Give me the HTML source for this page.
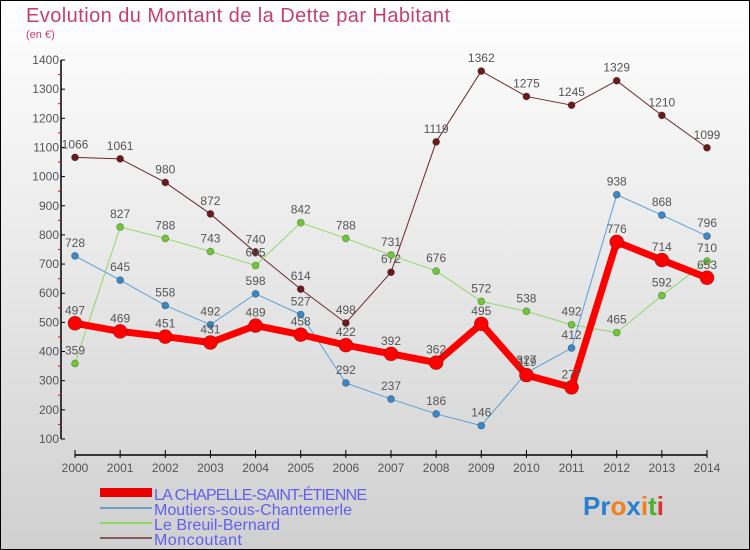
<!DOCTYPE html>
<html><head><meta charset="utf-8"><style>
body{margin:0}
svg{display:block;font-family:"Liberation Sans","DejaVu Sans",sans-serif}
</style></head><body>
<svg width="750" height="550" viewBox="0 0 750 550">
<defs><linearGradient id="bg" x1="0" y1="0" x2="0" y2="1"><stop offset="0" stop-color="#ffffff"/><stop offset="1" stop-color="#d0d0d0"/></linearGradient></defs>
<rect x="0.5" y="0.5" width="749" height="549" fill="url(#bg)" stroke="#000"/>
<text x="26" y="22" font-size="20" fill="#c8406a" textLength="424">Evolution du Montant de la Dette par Habitant</text>
<text x="26" y="38" font-size="11" fill="#c8406a">(en €)</text>
<g id="axes"></g>
<g id="series"></g>
<g font-size="16" fill="#6060ee">
<rect x="100" y="488" width="52" height="9" fill="#e80000"/>
<text x="154" y="500" textLength="213">LA CHAPELLE-SAINT-ÉTIENNE</text>
<rect x="100" y="507" width="52" height="2" fill="#6a9fc8"/>
<text x="154" y="515" textLength="198">Moutiers-sous-Chantemerle</text>
<rect x="100" y="522" width="52" height="2" fill="#8ed860"/>
<text x="154" y="530" textLength="126">Le Breuil-Bernard</text>
<rect x="100" y="537" width="52" height="2" fill="#8a5a5a"/>
<text x="154" y="545" textLength="88">Moncoutant</text>
</g>
<text x="583" y="515" font-size="26" font-weight="bold"><tspan fill="#2a7fd0">Pr</tspan><tspan fill="#f08020">o</tspan><tspan fill="#2a7fd0">x</tspan><tspan fill="#f08020">i</tspan><tspan fill="#50b030">t</tspan><tspan fill="#e03030">i</tspan></text>
</svg>
<script>
const years=[2000,2001,2002,2003,2004,2005,2006,2007,2008,2009,2010,2011,2012,2013,2014];
const yTicks=[100,200,300,400,500,600,700,800,900,1000,1100,1200,1300,1400];
const chapelle=[497,469,451,431,489,458,422,392,362,495,319,277,776,714,653];
const moutiers=[728,645,558,492,598,527,292,237,186,146,327,412,938,868,796];
const breuil=[359,827,788,743,695,842,788,731,676,572,538,492,465,592,710];
const moncoutant=[1066,1061,980,872,740,614,498,672,1119,1362,1275,1245,1329,1210,1099];
const NS='http://www.w3.org/2000/svg';
const X=i=>75+i*(707-75)/14;
const Y=v=>60+(1400-v)*(439-60)/1300;
function mk(t,a,p){const e=document.createElementNS(NS,t);for(const k in a)e.setAttribute(k,a[k]);p.appendChild(e);return e;}
const ax=document.getElementById('axes');
const yl=mk('line',{x1:61,y1:Y(1400),x2:61,y2:Y(100),stroke:'#000','stroke-width':1.5},ax);


yTicks.forEach(v=>{
 mk('line',{x1:61,y1:Y(v),x2:65,y2:Y(v),stroke:'#000'},ax);
 if(v<1400)mk('line',{x1:58,y1:Y(v+50),x2:61,y2:Y(v+50),stroke:'#e00'},ax);
 const t=mk('text',{x:59,y:Y(v)+4,'font-size':12,fill:'#555','text-anchor':'end'},ax);
 t.textContent=v;
 
 
});
const xl=mk('line',{x1:X(0),y1:455,x2:X(14),y2:455,stroke:'#000','stroke-width':1.5},ax);


years.forEach((y,i)=>{
 mk('line',{x1:X(i),y1:450,x2:X(i),y2:458,stroke:'#000'},ax);
 const t=mk('text',{x:X(i),y:472,'font-size':12,fill:'#555','text-anchor':'middle'},ax);
 t.textContent=y;
 
 
});
const sg=document.getElementById('series');
function draw(vals,name,color,lw,r,dot){
 const g=mk('g',{},sg);
 
 
 const p=mk('polyline',{points:vals.map((v,i)=>X(i)+','+Y(v)).join(' '),fill:'none',stroke:color,'stroke-width':lw,'stroke-linejoin':'round'},g);
 
 
 vals.forEach((v,i)=>{
  const c=mk('circle',{cx:X(i),cy:Y(v),r:r,fill:dot,stroke:'rgba(0,0,0,0.3)','stroke-width':0.8},g);
  
  
  const t=mk('text',{x:X(i),y:Y(v)-9,'font-size':12,fill:'#555','text-anchor':'middle'},g);
  t.textContent=v;
  
  
 });
}
draw(moncoutant,'moncoutant','#6b2a2a',1,3.5,'#6b1a1a');
draw(breuil,'breuil','#90d868',1,3.5,'#70c838');
draw(moutiers,'moutiers','#5aa0d8',1,3.5,'#3a88c8');
draw(chapelle,'chapelle','#f00',7,7,'#f00');
</script>
</body></html>
